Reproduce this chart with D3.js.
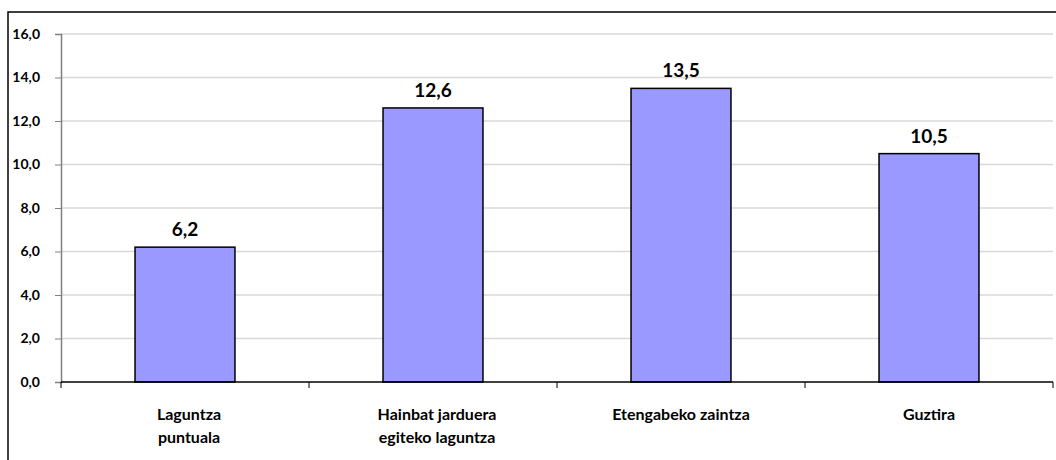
<!DOCTYPE html>
<html><head><meta charset="utf-8">
<script src="https://cdn.jsdelivr.net/npm/d3@7"></script>
<style>body{margin:0;background:#fff}svg{display:block}text{font-family:Lato,"Open Sans",sans-serif;font-weight:bold;fill:#000}</style>
</head><body>
<svg id="c" width="1056" height="460"></svg>
<script>
const categories = [["Laguntza","puntuala"],["Hainbat jarduera","egiteko laguntza"],["Etengabeko zaintza"],["Guztira"]];
const values = [6.2, 12.6, 13.5, 10.5];
const yTicks = [0,2,4,6,8,10,12,14,16];

(function(){
const svg = d3.select("#c");
const mLeft = 61, mRight = 1053, mTop = 34, mBottom = 382;
const fmt = v => v.toFixed(1).replace(".", ",");

svg.append("rect").attr("x",8).attr("y",12).attr("width",1100).attr("height",500)
  .attr("fill","none").attr("stroke","#000").attr("stroke-width",1.5);

const x = d3.scaleBand().domain(d3.range(categories.length)).range([mLeft,mRight]).paddingInner(0.597).paddingOuter(0.2985);
const xb = d3.scaleBand().domain(d3.range(categories.length)).range([mLeft,mRight]);
const y = d3.scaleLinear().domain([0,16]).range([mBottom,mTop]);

svg.append("g").selectAll("line").data(yTicks.filter(d=>d>0)).join("line")
  .attr("x1",mLeft).attr("x2",mRight).attr("y1",d=>y(d)).attr("y2",d=>y(d))
  .attr("stroke","#d9d9d9").attr("stroke-width",1.5);

const ya = svg.append("g").attr("transform",`translate(${mLeft},0)`)
  .call(d3.axisLeft(y).tickValues(yTicks).tickFormat(fmt).tickSize(6).tickPadding(15));
ya.select(".domain").attr("stroke","#808080").attr("stroke-width",1.5);
ya.selectAll(".tick line").attr("stroke","#808080");
ya.selectAll("text").style("font-size","14px").attr("font-family",null);

svg.append("g").selectAll("rect").data(values).join("rect")
  .attr("x",(d,i)=>x(i)).attr("width",x.bandwidth())
  .attr("y",d=>y(d)).attr("height",d=>mBottom-y(d))
  .attr("fill","#9999ff").attr("stroke","#000").attr("stroke-width",1.5);

svg.append("g").selectAll("text").data(values).join("text")
  .attr("x",(d,i)=>x(i)+x.bandwidth()/2).attr("y",d=>y(d)-11)
  .attr("text-anchor","middle").style("font-size","19px").text(fmt);

svg.append("line").attr("x1",mLeft).attr("x2",mRight).attr("y1",mBottom).attr("y2",mBottom)
  .attr("stroke","#000").attr("stroke-width",1.5);
svg.append("g").selectAll("line").data(d3.range(categories.length+1)).join("line")
  .attr("x1",i=>i<categories.length?xb(i):mRight).attr("x2",i=>i<categories.length?xb(i):mRight)
  .attr("y1",mBottom).attr("y2",mBottom+6).attr("stroke","#000").attr("stroke-width",1);

const lab = svg.append("g").selectAll("text").data(categories).join("text")
  .attr("text-anchor","middle").style("font-size","16px")
  .attr("transform",(d,i)=>`translate(${x(i)+x.bandwidth()/2+(d.length>1?4:0)},420)`);
lab.selectAll("tspan").data(d=>d).join("tspan").attr("x",0).attr("dy",(d,j)=>j?23:0).text(d=>d);
})();
</script>
</body></html>
